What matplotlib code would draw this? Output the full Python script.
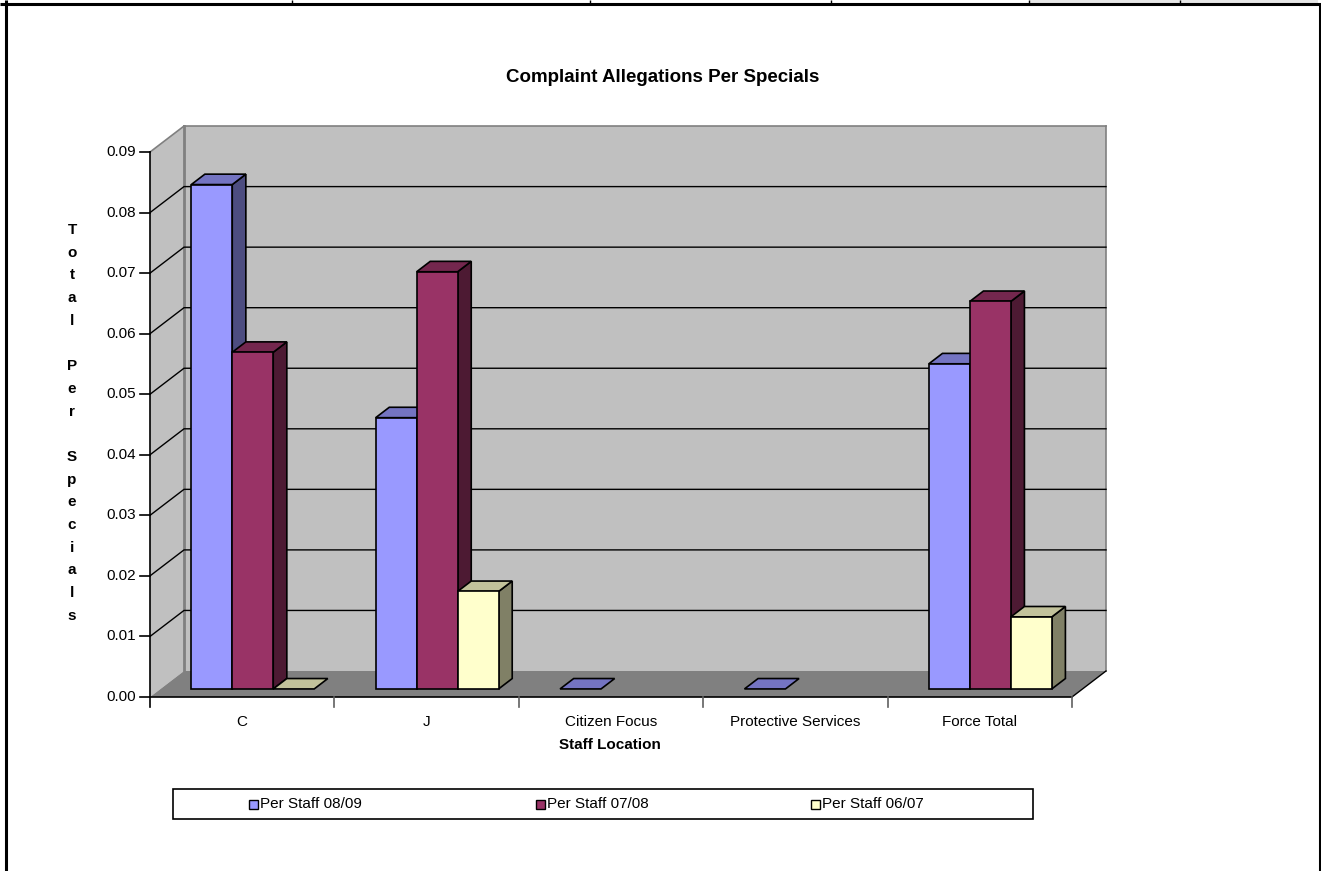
import numpy as np
import matplotlib
matplotlib.use("Agg")
import matplotlib.pyplot as plt
from matplotlib.patches import Polygon, Rectangle
from matplotlib.lines import Line2D
import matplotlib.colors as mcolors

plt.rcParams['font.family'] = ['Liberation Sans', 'DejaVu Sans']

# ---- data -------------------------------------------------------------
title = "Complaint Allegations Per Specials"
x_title = "Staff Location"
y_title = "Total Per Specials"
categories = ["C", "J", "Citizen Focus", "Protective Services", "Force Total"]
series_names = ["Per Staff 08/09", "Per Staff 07/08", "Per Staff 06/07"]
per_staff_0809 = [0.0833, 0.0448, 0.0, 0.0, 0.0537]
per_staff_0708 = [0.0556, 0.0689, np.nan, np.nan, 0.0640]
per_staff_0607 = [0.0, 0.0161, np.nan, np.nan, 0.0119]
y_ticks = [0.00, 0.01, 0.02, 0.03, 0.04, 0.05, 0.06, 0.07, 0.08, 0.09]
series_colors = ["#9999FF", "#993366", "#FFFFCC"]

series = [per_staff_0809, per_staff_0708, per_staff_0607]

# ---- figure / coordinate layout --------------------------------------
W, H = 1321, 871
fig = plt.figure(figsize=(W / 100, H / 100), dpi=100)
ax = fig.add_axes([0, 0, 1, 1])

ORIGIN_X, PX_PER_CAT = 150.0, 184.4     # front plane: x origin and px per category
ORIGIN_Y, PX_PER_UNIT = 697.0, 6055.0   # front plane: y origin and px per value unit
ax.set_xlim(-ORIGIN_X / PX_PER_CAT, (W - ORIGIN_X) / PX_PER_CAT)
ax.set_ylim((ORIGIN_Y - H) / PX_PER_UNIT, ORIGIN_Y / PX_PER_UNIT)
ax.axis("off")

# oblique depth offset (full depth of the plot box)
DX = 34.0 / PX_PER_CAT
DY = 26.0 / PX_PER_UNIT


def px(xp):
    return (xp - ORIGIN_X) / PX_PER_CAT


def py(yp):
    return (ORIGIN_Y - yp) / PX_PER_UNIT


def proj(x, v, d):
    return (x + d * DX, v + d * DY)


n_cat = len(categories)
vmax = y_ticks[-1]

# ---- walls and floor --------------------------------------------------
wall_col = "#C0C0C0"
floor_col = "#808080"
edge_gray = "#808080"

left_wall = [proj(0, 0, 0), proj(0, vmax, 0), proj(0, vmax, 1), proj(0, 0, 1)]
back_wall = [proj(0, 0, 1), proj(0, vmax, 1), proj(n_cat, vmax, 1), proj(n_cat, 0, 1)]
floor = [proj(0, 0, 0), proj(n_cat, 0, 0), proj(n_cat, 0, 1), proj(0, 0, 1)]
ax.add_patch(Polygon(left_wall, closed=True, facecolor=wall_col, edgecolor="none", zorder=1))
ax.add_patch(Polygon(back_wall, closed=True, facecolor=wall_col, edgecolor="none", zorder=1))
ax.add_patch(Polygon(floor, closed=True, facecolor=floor_col, edgecolor="none", zorder=1.5))

# wall outlines
for a, b in [((0, vmax, 0), (0, vmax, 1)), ((0, vmax, 1), (n_cat, vmax, 1)),
             ((n_cat, vmax, 1), (n_cat, 0, 1))]:
    p, q = proj(*a), proj(*b)
    ax.add_line(Line2D([p[0], q[0]], [p[1], q[1]], color=edge_gray, lw=1.2, zorder=2))
p, q = proj(0, 0, 1), proj(0, vmax, 1)
ax.add_line(Line2D([p[0], q[0]], [p[1], q[1]], color=edge_gray, lw=2.0, zorder=2))

# gridlines on side and back walls
for t in y_ticks[1:-1]:
    a, b, c = proj(0, t, 0), proj(0, t, 1), proj(n_cat, t, 1)
    ax.add_line(Line2D([a[0], b[0], c[0]], [a[1], b[1], c[1]], color="black", lw=1.0, zorder=2))

# floor front-right edge
p, q = proj(n_cat, 0, 0), proj(n_cat, 0, 1)
ax.add_line(Line2D([p[0], q[0]], [p[1], q[1]], color="black", lw=1.0, zorder=2))

# ---- axes lines and ticks --------------------------------------------
ax.add_line(Line2D([0, 0], [0, vmax], color="black", lw=1.2, zorder=6))
ax.add_line(Line2D([0, n_cat], [0, 0], color="black", lw=1.2, zorder=6))
tick_len_x = 10.0 / PX_PER_CAT
tick_len_y = 10.0 / PX_PER_UNIT
for t in y_ticks:
    ax.add_line(Line2D([-tick_len_x, 0], [t, t], color="black", lw=1.2, zorder=6))
    ax.text(-14.0 / PX_PER_CAT, t, f"{t:.2f}", ha="right", va="center", fontsize=11, zorder=7)
for i in range(n_cat + 1):
    col = "black" if i == 0 else "#606060"
    ax.add_line(Line2D([i, i], [0, -tick_len_y], color=col, lw=1.2, zorder=6))
for i, name in enumerate(categories):
    ax.text(i + 0.5, py(722), name, ha="center", va="center", fontsize=11, zorder=7)

# ---- bars ------------------------------------------------------------
gap = 1.0 / 3.0
bar_w = (1.0 - gap) / len(series)
d0, d1 = 0.31, 0.71


def shade(color, f):
    r, g, b = mcolors.to_rgb(color)
    return (r * f, g * f, b * f)


z = 10
for i in range(n_cat):
    for j, vals in enumerate(series):
        v = vals[i]
        if v is None or np.isnan(v):
            continue
        x0 = i + gap / 2 + j * bar_w
        x1 = x0 + bar_w
        col = series_colors[j]
        top = [proj(x0, v, d0), proj(x1, v, d0), proj(x1, v, d1), proj(x0, v, d1)]
        if v > 0:
            side = [proj(x1, 0, d0), proj(x1, v, d0), proj(x1, v, d1), proj(x1, 0, d1)]
            front = [proj(x0, 0, d0), proj(x1, 0, d0), proj(x1, v, d0), proj(x0, v, d0)]
            ax.add_patch(Polygon(side, closed=True, facecolor=shade(col, 0.5),
                                 edgecolor="black", lw=1.2, joinstyle="miter", zorder=z))
            ax.add_patch(Polygon(top, closed=True, facecolor=shade(col, 0.76),
                                 edgecolor="black", lw=1.2, joinstyle="miter", zorder=z + 0.1))
            ax.add_patch(Polygon(front, closed=True, facecolor=col,
                                 edgecolor="black", lw=1.2, joinstyle="miter", zorder=z + 0.2))
        else:
            ax.add_patch(Polygon(top, closed=True, facecolor=shade(col, 0.76),
                                 edgecolor="black", lw=1.2, joinstyle="miter", zorder=z + 0.1))
        z += 1

# ---- titles ----------------------------------------------------------
ax.text(px(663), py(77), title, ha="center", va="center", fontsize=13.5,
        fontweight="bold")
ax.text(px(610), py(745), x_title, ha="center", va="center", fontsize=11,
        fontweight="bold")
line_step = 22.7
for k, ch in enumerate(y_title):
    if ch == " ":
        continue
    ax.text(px(72), py(230 + k * line_step), ch, ha="center", va="center",
            fontsize=11, fontweight="bold")

# ---- legend ----------------------------------------------------------
leg_left, leg_right, leg_top, leg_bot = 173, 1033, 789, 819
leg_mid = (leg_top + leg_bot) / 2
ax.add_patch(Rectangle((px(leg_left), py(leg_bot)), px(leg_right) - px(leg_left),
                       py(leg_top) - py(leg_bot), facecolor="white",
                       edgecolor="black", lw=1.2, zorder=20))
leg_x = [249, 536, 811]
for xk, name, col in zip(leg_x, series_names, series_colors):
    s = 9
    ax.add_patch(Rectangle((px(xk), py(leg_mid + s / 2)), s / PX_PER_CAT, s / PX_PER_UNIT,
                           facecolor=col, edgecolor="black", lw=1.0, zorder=21))
    ax.text(px(xk + s + 2), py(leg_mid), name, ha="left", va="center", fontsize=11, zorder=21)

# ---- outer frame -----------------------------------------------------
def fline(x0, y0, x1, y1, lw, color="black"):
    fig.add_artist(Line2D([x0 / W, x1 / W], [1 - y0 / H, 1 - y1 / H],
                          transform=fig.transFigure, color=color, lw=lw,
                          solid_capstyle="butt"))

fig.add_artist(Rectangle((1030 / W, 1 - 3 / H), (1318 - 1030) / W, 3 / H,
                         transform=fig.transFigure, facecolor="#E6E6E6",
                         edgecolor="none"))
for xv in [292, 590, 831, 1029, 1180]:
    fline(xv, 0, xv, 3.5, 1.0)
fline(0, 4, W, 4, 2.2)
fline(6, 0, 6, H, 2.2)
fline(1319.5, 4, 1319.5, H, 2.2)

fig.savefig("out.png", dpi=100)
